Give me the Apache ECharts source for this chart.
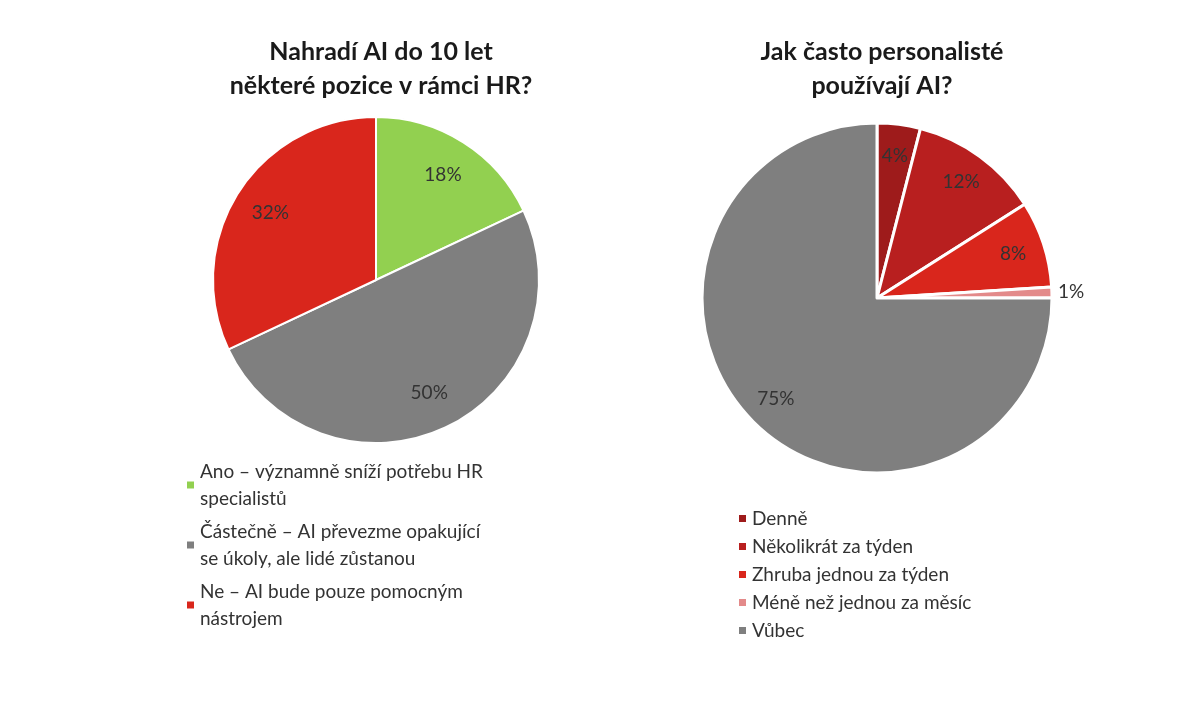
<!DOCTYPE html>
<html><head><meta charset="utf-8">
<script src="https://cdn.jsdelivr.net/npm/echarts@6/dist/echarts.min.js"></script>
<style>html,body{margin:0;background:#fff}#c{width:1200px;height:710px}</style>
</head><body><div id="c"></div>
<script>
const leftNames = ['Ano – významně sníží potřebu HR specialistů', 'Částečně – AI převezme opakující se úkoly, ale lidé zůstanou', 'Ne – AI bude pouze pomocným nástrojem'];
const leftWrapped = ['Ano – významně sníží potřebu HR\nspecialistů', 'Částečně – AI převezme opakující\nse úkoly, ale lidé zůstanou', 'Ne – AI bude pouze pomocným\nnástrojem'];
const leftValues = [18, 50, 32];
const leftColors = ['#92d050', '#7f7f7f', '#d9261c'];
const rightNames = ['Denně', 'Několikrát za týden', 'Zhruba jednou za týden', 'Méně než jednou za měsíc', 'Vůbec'];
const rightValues = [4, 12, 8, 1, 75];
const rightColors = ['#9e1b1b', '#b81f1f', '#d9261c', '#e38a8a', '#7f7f7f'];

const font = 'Lato, "Open Sans", sans-serif';
const chart = echarts.init(document.getElementById('c'));
function mk(names, vals, cols) {
  return names.map((n, i) => ({ name: n, value: vals[i], itemStyle: { color: cols[i] } }));
}
const lbl = { color: '#333', fontSize: 19, fontFamily: font, formatter: '{c}%' };
chart.setOption({
  animation: false,
  title: [
    { text: 'Nahradí AI do 10 let\nněkteré pozice v rámci HR?', left: 376, top: 30, textAlign: 'center',
      textStyle: { fontSize: 25, fontWeight: 'bold', color: '#1a1a1a', fontFamily: font, lineHeight: 34 } },
    { text: 'Jak často personalisté\npoužívají AI?', left: 877, top: 30, textAlign: 'center',
      textStyle: { fontSize: 25, fontWeight: 'bold', color: '#1a1a1a', fontFamily: font, lineHeight: 34 } }
  ],
  legend: [
    { data: leftNames, orient: 'vertical', left: 180, top: 453, itemWidth: 9, itemHeight: 9, itemGap: 6, icon: 'rect',
      formatter: n => leftWrapped[leftNames.indexOf(n)],
      textStyle: { fontSize: 19, color: '#333', fontFamily: font, lineHeight: 27 } },
    { data: rightNames, orient: 'vertical', left: 732, top: 504, itemWidth: 9, itemHeight: 9, itemGap: 9, icon: 'rect',
      textStyle: { fontSize: 19, color: '#333', fontFamily: font } }
  ],
  series: [
    { type: 'pie', center: [376, 280], radius: [0, 163], startAngle: 90, silent: true,
      data: mk(leftNames, leftValues, leftColors), label: { show: false },
      itemStyle: { borderColor: '#fff', borderWidth: 2 } },
    { type: 'pie', center: [376, 280], radius: [0, 244], startAngle: 90, silent: true,
      data: mk(leftNames, leftValues, leftColors).map(d => ({ ...d, itemStyle: { color: 'transparent' } })),
      label: { ...lbl, position: 'inside' }, legendHoverLink: false },
    { type: 'pie', center: [877, 298], radius: [0, 175], startAngle: 90, silent: true,
      data: mk(rightNames, rightValues, rightColors).map((d, i) => i === 3 ? { ...d, label: { show: true } } : d),
      label: { ...lbl, show: false, position: 'outside', distanceToLabelLine: 0 }, labelLine: { show: false, length: 6, length2: 0 },
      itemStyle: { borderColor: '#fff', borderWidth: 3 } },
    { type: 'pie', center: [877, 298], radius: [0, 280], startAngle: 90, silent: true,
      data: mk(rightNames, rightValues, rightColors).map((d, i) => ({ ...d, itemStyle: { color: 'transparent' }, label: { show: i !== 3 } })),
      label: { ...lbl, position: 'inside' } }
  ]
});
</script></body></html>
